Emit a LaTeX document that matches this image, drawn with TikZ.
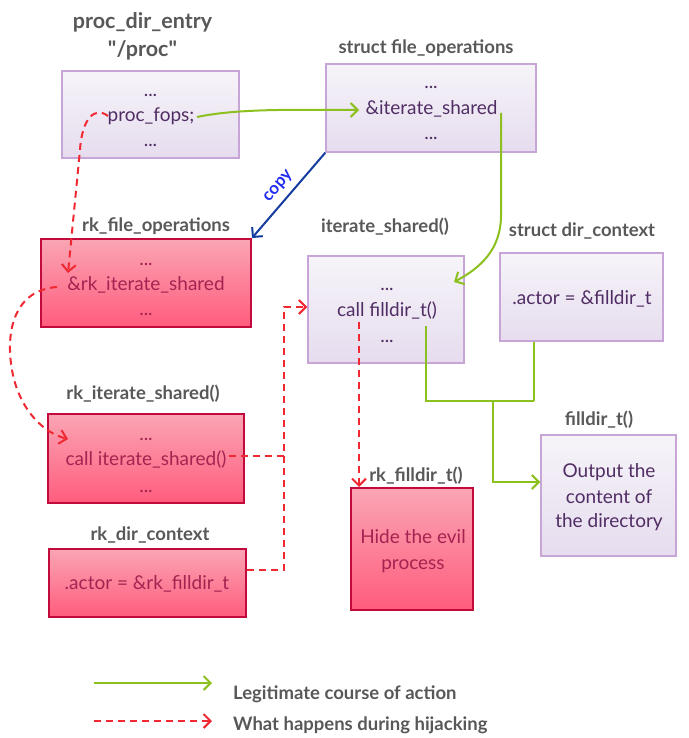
\documentclass[tikz,border=0pt]{standalone}
\usepackage{fontspec}
\setmainfont{Lato}
\usetikzlibrary{arrows.meta}
\definecolor{lvb}{RGB}{200,165,215}
\definecolor{lvt}{RGB}{246,244,249}
\definecolor{lvd}{RGB}{230,220,238}
\definecolor{rdb}{RGB}{195,10,60}
\definecolor{rdt}{RGB}{250,165,180}
\definecolor{rdd}{RGB}{255,92,125}
\definecolor{ttlc}{RGB}{88,88,88}
\definecolor{lvtx}{RGB}{80,45,100}
\definecolor{rdtx}{RGB}{165,35,80}
\definecolor{grn}{RGB}{140,192,30}
\definecolor{redd}{RGB}{240,40,50}
\definecolor{bline}{RGB}{20,60,160}
\definecolor{btext}{RGB}{35,45,240}
\newcommand\strq{\XeTeXglyph\XeTeXcharglyph"0022\relax}
\tikzset{
 lbox/.style={draw=lvb, line width=1.4pt, top color=lvt, bottom color=lvd, inner sep=0pt},
 rbox/.style={draw=rdb, line width=2pt, top color=rdt, bottom color=rdd, inner sep=0pt},
 ttl/.style={font=\fontsize{18.5}{22}\selectfont\bfseries, text=ttlc, anchor=base, inner sep=0pt},
 bigttl/.style={ttl, font=\fontsize{21.5}{24}\selectfont\bfseries},
 ltx/.style={font=\fontsize{19}{22}\selectfont, text=lvtx, anchor=base, inner sep=0pt},
 rtx/.style={font=\fontsize{19}{22}\selectfont, text=rdtx, anchor=base, inner sep=0pt},
 lgd/.style={font=\fontsize{18.5}{22}\selectfont\bfseries, text=ttlc, anchor=base west, inner sep=0pt},
 gline/.style={draw=grn, line width=2pt},
 garr/.style={gline, -{Straight Barb[length=7pt,width=14pt,line width=2pt]}},
 rline/.style={draw=redd, line width=2pt, dash pattern=on 7pt off 5pt},
 rarr/.style={rline, -{Straight Barb[length=7pt,width=14pt,line width=2pt]}},
 barr/.style={draw=bline, line width=2pt, -{Straight Barb[length=7pt,width=14pt,line width=2pt]}}
}
\begin{document}
\begin{tikzpicture}[x=1pt,y=-1pt]
\useasboundingbox (0,0) rectangle (688,738);
% boxes
\node[lbox, minimum width=177, minimum height=87] (procbox) at (150.5,114.5) {};
\node[lbox, minimum width=210, minimum height=88] (fobox) at (431,108) {};
\node[rbox, minimum width=210, minimum height=88] (rkfobox) at (146,283) {};
\node[lbox, minimum width=156, minimum height=107] (isbox) at (386,309.5) {};
\node[lbox, minimum width=163, minimum height=88] (dcbox) at (581.5,297) {};
\node[rbox, minimum width=196, minimum height=89] (rkisbox) at (146,458.5) {};
\node[rbox, minimum width=197, minimum height=68] (rkdcbox) at (147.5,583) {};
\node[rbox, minimum width=122, minimum height=122] (rkfdbox) at (412,549) {};
\node[lbox, minimum width=135, minimum height=121] (fdbox) at (608.5,495.5) {};
% titles
\node[bigttl] (t1a) at (142.5,29) {proc\_dir\_entry};
\node[bigttl] (t1b) at (142.5,57) {\strq/proc\strq};
\node[ttl] (t2) at (426,54) {struct file\_operations};
\node[ttl] (t3) at (156,231) {rk\_file\_operations};
\node[ttl] (t4) at (385,232) {iterate\_shared()};
\node[ttl] (t5) at (582,236) {struct dir\_context};
\node[ttl] (t6) at (143,399) {rk\_iterate\_shared()};
\node[ttl] (t7) at (150,540) {rk\_dir\_context};
\node[ttl] (t8) at (416,481) {rk\_filldir\_t()};
\node[ttl] (t9) at (599,425) {filldir\_t()};
% box texts
\node[ltx] (p1) at (150.5,97) {...};
\node[ltx] (fops) at (151,122) {proc\_fops;};
\node[ltx] (p3) at (150.5,147) {...};
\node[ltx] (f1) at (431,89) {...};
\node[ltx] (iters) at (431.5,115) {\&iterate\_shared};
\node[ltx] (f3) at (431,140) {...};
\node[rtx] (k1) at (146,265) {...};
\node[rtx] (rkiters) at (146,290) {\&rk\_iterate\_shared};
\node[rtx] (k3) at (146,315) {...};
\node[ltx] (i1) at (387,290) {...};
\node[ltx] (callfd) at (387,316) {call filldir\_t()};
\node[ltx] (i3) at (387,342) {...};
\node[ltx] (actor) at (582,304) {.actor = \&filldir\_t};
\node[rtx] (r1) at (146,440) {...};
\node[rtx] (rkcall) at (146,465) {call iterate\_shared()};
\node[rtx] (r3) at (146,492) {...};
\node[rtx] (rkactor) at (147,589) {.actor = \&rk\_filldir\_t};
\node[rtx] (h1) at (413,543) {Hide the evil};
\node[rtx] (h2) at (413,569) {process};
\node[ltx] (o1) at (609,477) {Output the};
\node[ltx] (o2) at (609,503) {content of};
\node[ltx] (o3) at (609,527) {the directory};
% legend
\coordinate (lg1s) at (94,683);
\coordinate (lg1e) at (212,683);
\coordinate (lg2s) at (94,721);
\coordinate (lg2e) at (212,721);
\draw[garr] (lg1s) -- (lg1e);
\draw[rarr] (lg2s) -- (lg2e);
\node[lgd] (lt1) at (233,699) {Legitimate course of action};
\node[lgd] (lt2) at (233,730) {What happens during hijacking};
% connectors
\coordinate (g1s) at (197,117);
\coordinate (g1e) at (359,110);
\draw[garr] (g1s) .. controls (240,108) and (300,110) .. (g1e);
\draw[barr] (fobox.south west) -- node[midway, sloped, above=3pt, text=btext, font=\fontsize{17}{18}\selectfont\bfseries] (copy) {copy} (rkfobox.north east);
\coordinate (g3s) at (501,113);
\coordinate (g3a) at (501,215);
\coordinate (g3e) at (454,282);
\draw[garr] (g3s) -- (g3a) .. controls (501,250) and (480,268) .. (g3e);
\coordinate (r4s) at (108,116);
\coordinate (r4e) at (68,273);
\draw[rarr] (r4s) .. controls (95,106) and (82,118) .. (80,150) -- (r4e);
\coordinate (r5s) at (57,287);
\coordinate (r5e) at (68,439);
\draw[rarr] (r5s) .. controls (15,290) and (5,330) .. (12,370) .. controls (18,405) and (40,432) .. (r5e);
\coordinate (rj) at (284,307);
\draw[rarr] (229,456) -| (rj) -- (isbox.west |- rj);
\draw[rline] (rkdcbox.east |- 0,570) -| (284,456);
\coordinate (r8s) at (359,322);
\draw[rarr] (r8s) -- (r8s |- rkfdbox.north);
\coordinate (g9s) at (426,326);
\coordinate (g9a) at (426,401);
\coordinate (g9b) at (534,401);
\coordinate (g9m) at (493,401);
\coordinate (g9c) at (493,482);
\draw[gline] (g9s) -- (g9a) -- (g9b);
\draw[gline] (g9b |- dcbox.south) -- (g9b);
\draw[garr] (g9m) -- (g9c) -- (fdbox.west |- g9c);
\end{tikzpicture}
\end{document}
